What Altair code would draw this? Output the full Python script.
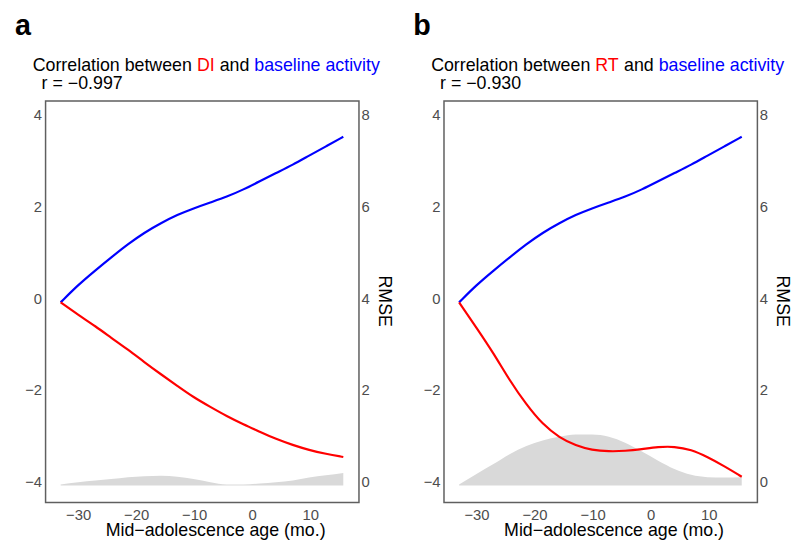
import altair as alt
import pandas as pd

# ---------------- data ----------------
age = [-33, -30, -27, -24.3, -21.4, -18.6, -15.7, -12.9, -10.1, -7.2,
       -4.4, -1.5, 1.3, 4.1, 7.0, 9.8, 12.7, 15.7]

# panel a
blue_a = [-0.09, 0.29, 0.61, 0.89, 1.18, 1.43, 1.64, 1.82, 1.96, 2.09,
          2.21, 2.37, 2.55, 2.73, 2.91, 3.11, 3.31, 3.52]
red_a = [-0.09, -0.36, -0.61, -0.86, -1.12, -1.39, -1.66, -1.91, -2.16, -2.37,
         -2.57, -2.75, -2.91, -3.07, -3.20, -3.31, -3.39, -3.46]
rmse_a = [-0.06, -0.01, 0.03, 0.06, 0.10, 0.12, 0.13, 0.11, 0.06, -0.01,
          -0.06, -0.06, -0.04, -0.01, 0.03, 0.09, 0.14, 0.19]

# panel b
blue_b = [-0.09, 0.29, 0.61, 0.89, 1.18, 1.43, 1.64, 1.82, 1.96, 2.09,
          2.21, 2.37, 2.55, 2.73, 2.91, 3.11, 3.31, 3.52]
red_b = [-0.09, -0.64, -1.21, -1.79, -2.32, -2.75, -3.04, -3.21, -3.31, -3.34,
         -3.33, -3.29, -3.24, -3.23, -3.30, -3.46, -3.66, -3.89]
rmse_b = [-0.06, 0.17, 0.39, 0.60, 0.78, 0.90, 0.98, 1.03, 1.03, 0.98,
          0.85, 0.66, 0.46, 0.28, 0.15, 0.10, 0.09, 0.10]

rmse_base = -0.08

left_ticks = [-4, -2, 0, 2, 4]
right_ticks = [0, 2, 4, 6, 8]
x_ticks = [-30, -20, -10, 0, 10]

panel_letters = ["a", "b"]
measure_a = "DI"
measure_b = "RT"
r_a = "r = −0.997"
r_b = "r = −0.930"
x_title = "Mid−adolescence age (mo.)"
y2_title = "RMSE"

FONT = "Liberation Sans"
BLUE = "#0000ff"
RED = "#ff0000"
GRAY = "#d9d9d9"

W, H = 317, 406
FS = 18  # title font size


def txt(s, x, y, color="black", size=FS, weight="normal"):
    return alt.Chart(pd.DataFrame({"t": [s]})).mark_text(
        align="left", baseline="alphabetic", font=FONT, fontSize=size,
        fontWeight=weight, color=color
    ).encode(text="t:N", x=alt.value(x), y=alt.value(y))


def width_of(units):
    return units * FS / 1000.0


def panel(letter, measure, measure_units, rtext, blue, red, rmse):
    lines_df = pd.DataFrame({
        "age": age * 2,
        "v": blue + red,
        "series": ["baseline"] * len(age) + ["measure"] * len(age),
    })
    area_df = pd.DataFrame({"age": age, "rmse": rmse, "base": [rmse_base] * len(age)})

    xenc = alt.X("age:Q", scale=alt.Scale(domain=[-35.6, 18.4], nice=False, zero=False),
                 axis=alt.Axis(values=x_ticks, title=x_title, titleX=171.5, titleY=33,
                               titleAlign="center", titleBaseline="alphabetic",
                               labelPadding=5))

    area = alt.Chart(area_df).mark_area(color=GRAY, interpolate="monotone").encode(
        x=xenc,
        y=alt.Y("rmse:Q", scale=alt.Scale(domain=[-0.45, 8.3], nice=False, zero=False),
                axis=alt.Axis(orient="right", values=right_ticks, title=y2_title,
                              labelPadding=2, titleAngle=90, titleX=24.5, titleY=H / 2 - 1,
                              titleAlign="center", titleBaseline="middle")),
        y2="base:Q",
    )

    lines = alt.Chart(lines_df).mark_line(strokeWidth=2.2, interpolate="basis").encode(
        x=xenc,
        y=alt.Y("v:Q", scale=alt.Scale(domain=[-4.45, 4.3], nice=False, zero=False),
                axis=alt.Axis(orient="left", values=left_ticks, title=None, labelPadding=4)),
        color=alt.Color("series:N", scale=alt.Scale(domain=["baseline", "measure"],
                                                    range=[BLUE, RED]), legend=None),
    )

    x0 = -13
    x_meas = x0 + width_of(9226)
    x_and = x_meas + width_of(measure_units) + width_of(278)
    x_base = x_and + width_of(1668) + width_of(278)

    texts = [
        txt(letter, -31, -67, size=29, weight="bold"),
        txt("Correlation between", x0, -30),
        txt(measure, x_meas, -30, color=RED),
        txt("and", x_and, -30),
        txt("baseline activity", x_base, -30, color=BLUE),
        txt(rtext, -4, -12),
    ]

    return alt.layer(area, lines, *texts).resolve_scale(y="independent").properties(
        width=W, height=H)


pa = panel(panel_letters[0], measure_a, 1000, r_a, blue_a, red_a, rmse_a)
pb = panel(panel_letters[1], measure_b, 1333, r_b, blue_b, red_b, rmse_b)

chart = alt.hconcat(
    pa, pb, spacing=86, bounds="flush",
    padding={"left": 6, "top": 0, "right": 0, "bottom": 0},
).configure_view(
    stroke="#5f5f5f", strokeWidth=1.5
).configure_axis(
    domain=False, grid=False, ticks=False, tickSize=0,
    labelFont=FONT, labelFontSize=15, labelColor="#4d4d4d",
    titleFont=FONT, titleFontSize=18, titleColor="black", titleFontWeight="normal",
)

chart.save("out.html", embed_options={"renderer": "svg", "actions": False})
